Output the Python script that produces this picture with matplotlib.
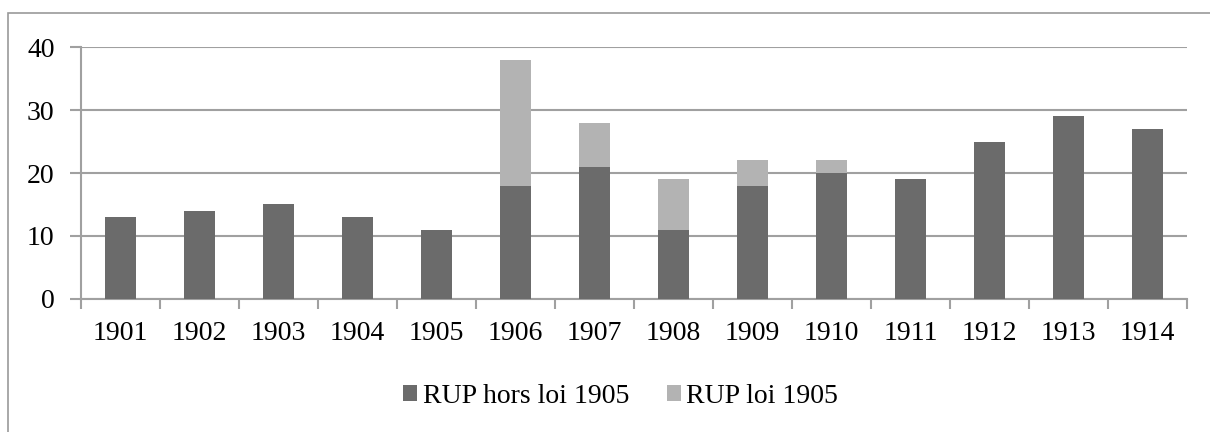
import matplotlib.pyplot as plt
from matplotlib.patches import Rectangle
import numpy as np

# données
annees = ['1901', '1902', '1903', '1904', '1905', '1906', '1907',
          '1908', '1909', '1910', '1911', '1912', '1913', '1914']
hors_loi = [13, 14, 15, 13, 11, 18, 21, 11, 18, 20, 19, 25, 29, 27]
loi_1905 = [0, 0, 0, 0, 0, 20, 7, 8, 4, 2, 0, 0, 0, 0]

plt.rcParams['font.family'] = ['Liberation Serif']

fig = plt.figure(figsize=(12.1, 4.32), dpi=100)
ax = fig.add_axes([0.067, 0.308, 0.914, 0.583])

# cadre extérieur
fig.patches.append(Rectangle((8 / 1210, -0.1), 1.2, 1 - 13 / 432 + 0.1,
                             transform=fig.transFigure, fill=False,
                             edgecolor='#9a9a9a', linewidth=1.2))

x = np.arange(len(annees))
ax.bar(x, hors_loi, width=0.4, color='#6b6b6b', label='RUP hors loi 1905', zorder=3)
ax.bar(x, loi_1905, width=0.4, bottom=hors_loi, color='#b3b3b3',
       label='RUP loi 1905', zorder=3)

ax.set_xlim(-0.5, len(annees) - 0.5)
ax.set_ylim(0, 40)
ax.set_yticks([0, 10, 20, 30, 40])
ax.yaxis.grid(True, color='#a0a0a0', linewidth=1.5, zorder=0)

# graduations entre les catégories
ax.set_xticks(np.arange(-0.5, len(annees), 1))
ax.set_xticklabels([])
ax.set_xticks(x, minor=True)
ax.set_xticklabels(annees, minor=True)
ax.tick_params(axis='x', which='minor', length=0, pad=16, labelsize=20)
ax.tick_params(axis='x', which='major', length=7, color='#a0a0a0', width=1.5)
ax.tick_params(axis='y', length=8, color='#a0a0a0', width=1.5, labelsize=20, pad=11)

for s in ['top', 'right']:
    ax.spines[s].set_visible(False)
for s in ['left', 'bottom']:
    ax.spines[s].set_color('#a0a0a0')
    ax.spines[s].set_linewidth(1.5)

leg = fig.legend(loc='center', bbox_to_anchor=(0.513, 0.083), ncol=2,
                 frameon=False, fontsize=20, handlelength=0.5, handleheight=0.5,
                 columnspacing=1.35, handletextpad=0.2)

fig.savefig('out.png', dpi=100)
